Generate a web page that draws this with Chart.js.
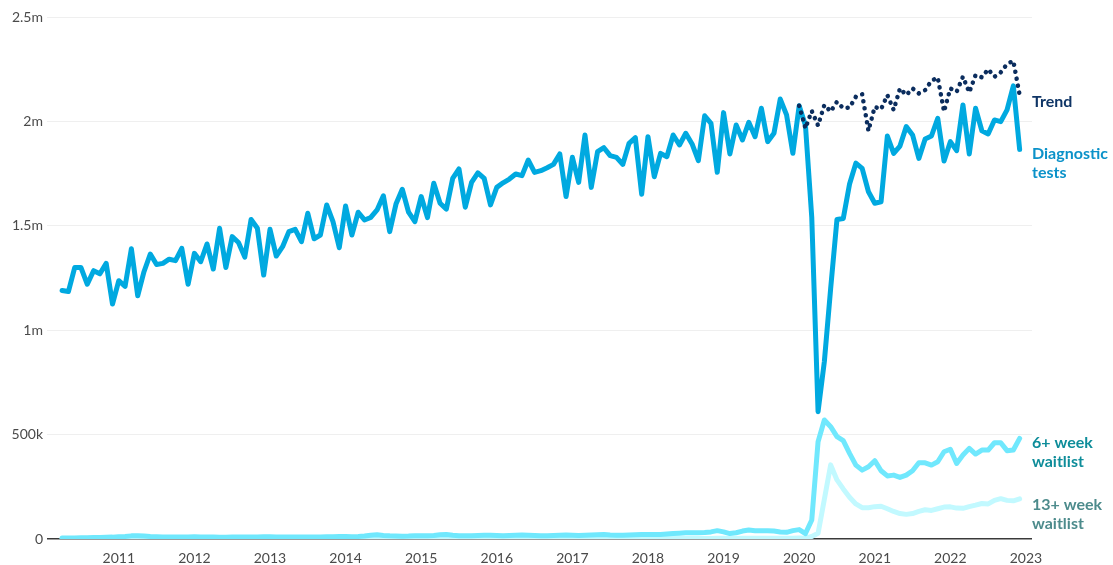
<!DOCTYPE html>
<html>
<head>
<meta charset="utf-8">
<script src="https://cdn.jsdelivr.net/npm/chart.js@4.4.1/dist/chart.umd.min.js"></script>
<style>
  html, body { margin: 0; padding: 0; background: #fff; }
  #wrap { width: 1113px; height: 565px; position: relative; }
</style>
</head>
<body>
<div id="wrap"><canvas id="chart"></canvas></div>
<script>
// ── Data (thousands, monthly from Apr 2010 to Dec 2022) ──
const START_YEAR = 2010;
const START_MONTH = 4;

const diagnosticTests = [
  // 2010 (Apr-Dec)
  1190, 1185, 1300, 1300, 1220, 1285, 1270, 1320, 1125,
  // 2011
  1237, 1210, 1390, 1165, 1280, 1365, 1315, 1320, 1340, 1333, 1392, 1220,
  // 2012
  1368, 1328, 1413, 1293, 1488, 1300, 1448, 1420, 1350, 1530, 1488, 1264,
  // 2013
  1483, 1355, 1400, 1472, 1483, 1424, 1560, 1438, 1456, 1600, 1520, 1395,
  // 2014
  1595, 1456, 1565, 1528, 1540, 1576, 1644, 1472, 1604, 1675, 1565, 1520,
  // 2015
  1640, 1539, 1704, 1608, 1580, 1727, 1772, 1589, 1708, 1754, 1727, 1600,
  // 2016
  1684, 1706, 1724, 1748, 1740, 1815, 1756, 1764, 1778, 1794, 1844, 1640,
  // 2017
  1828, 1708, 1935, 1684, 1855, 1874, 1836, 1828, 1794, 1895, 1922, 1651,
  // 2018
  1927, 1735, 1847, 1831, 1935, 1887, 1943, 1892, 1812, 2027, 1991, 1756,
  // 2019
  2042, 1844, 1983, 1911, 1996, 1927, 2063, 1903, 1943, 2107, 2031, 1847,
  // 2020
  2075, 1980, 1540, 610, 850, 1200, 1530, 1535, 1700, 1800, 1775, 1663,
  // 2021
  1608, 1615, 1930, 1847, 1882, 1975, 1935, 1823, 1916, 1930, 2015, 1810,
  // 2022
  1903, 1860, 2079, 1844, 2063, 1955, 1940, 2007, 1999, 2055, 2170, 1866
];

// trend only exists from Jan 2020
const TREND_START = '2020-01';
const trend = [
  2075, 1967, 2050, 1980, 2079, 2047, 2094, 2063, 2066, 2118, 2130, 1955,
  2070, 2058, 2126, 2055, 2158, 2126, 2158, 2134, 2150, 2195, 2210, 2047,
  2158, 2142, 2214, 2139, 2222, 2211, 2250, 2214, 2235, 2275, 2290, 2126
];

const waitlist6 = [
  // 2010
  5, 5, 5, 6, 6, 7, 7, 8, 9,
  // 2011
  11, 12, 15, 16, 14, 12, 11, 10, 10, 10, 9, 10,
  // 2012
  11, 10, 9, 9, 8, 8, 9, 9, 9, 10, 10, 11,
  // 2013
  11, 10, 9, 9, 9, 9, 10, 10, 10, 11, 11, 12,
  // 2014
  12, 11, 12, 14, 18, 20, 17, 15, 14, 13, 14, 16,
  // 2015
  16, 15, 17, 20, 22, 18, 16, 16, 16, 17, 18, 18,
  // 2016
  17, 16, 17, 18, 19, 18, 17, 16, 16, 17, 18, 19,
  // 2017
  18, 17, 18, 19, 20, 21, 19, 18, 18, 19, 20, 21,
  // 2018
  22, 21, 22, 24, 26, 28, 30, 30, 30, 31, 34, 40,
  // 2019
  34, 26, 30, 38, 43, 40, 40, 40, 38, 34, 32, 40,
  // 2020
  45, 26, 91, 466, 570, 538, 490, 471, 410, 354, 330, 346,
  // 2021
  375, 327, 302, 306, 295, 306, 327, 365, 365, 354, 370, 418,
  // 2022
  430, 362, 402, 434, 407, 426, 426, 461, 461, 423, 426, 482
];

const waitlist13 = [
  // 2010
  1, 1, 1, 1, 1, 1, 1, 1, 1,
  // 2011
  1, 1, 2, 2, 2, 1, 1, 1, 1, 1, 1, 1,
  // 2012
  1, 1, 1, 1, 1, 1, 1, 1, 1, 1, 1, 1,
  // 2013
  1, 1, 1, 1, 1, 1, 1, 1, 1, 1, 1, 1,
  // 2014
  1, 1, 1, 1, 2, 2, 2, 1, 1, 1, 1, 1,
  // 2015
  1, 1, 1, 2, 2, 2, 1, 1, 1, 1, 1, 1,
  // 2016
  1, 1, 1, 1, 1, 1, 1, 1, 1, 1, 1, 1,
  // 2017
  1, 1, 1, 1, 1, 1, 1, 1, 1, 1, 1, 1,
  // 2018
  1, 1, 1, 2, 2, 2, 2, 2, 2, 2, 2, 3,
  // 2019
  3, 2, 2, 3, 4, 3, 3, 3, 3, 3, 3, 4,
  // 2020
  5, 4, 12, 27, 190, 355, 283, 240, 200, 168, 150, 150,
  // 2021
  155, 157, 145, 132, 122, 118, 122, 132, 140, 137, 145, 153,
  // 2022
  154, 148, 147, 155, 162, 170, 168, 185, 193, 185, 183, 192
];

const yearTicks = [2011, 2012, 2013, 2014, 2015, 2016, 2017, 2018, 2019, 2020, 2021, 2022, 2023];
const yTicks = [0, 500, 1000, 1500, 2000, 2500];
const yTickLabels = ['0', '500k', '1m', '1.5m', '2m', '2.5m'];

const seriesLabels = [
  { text: ['Trend'], color: '#0f3566', dy: 7 },
  { text: ['Diagnostic', 'tests'], color: '#0b92c9', dy: 4 },
  { text: ['6+ week', 'waitlist'], color: '#0e8d9a', dy: 4 },
  { text: ['13+ week', 'waitlist'], color: '#4d8b8c', dy: 6 }
];

// month index -> decimal year on x axis
function monthX(i) {
  return START_YEAR + (START_MONTH - 1 + i) / 12;
}
function toPoints(arr, offset) {
  return arr.map((v, i) => ({ x: monthX(i + offset), y: v }));
}
const trendOffset = (parseInt(TREND_START.slice(0, 4)) - START_YEAR) * 12 +
  parseInt(TREND_START.slice(5)) - START_MONTH;

// ── End labels ──
const endLabels = {
  id: 'endLabels',
  afterDatasetsDraw(chart) {
    const { ctx, scales: { y }, chartArea } = chart;
    ctx.save();
    ctx.font = 'bold 16px Lato';
    ctx.textBaseline = 'middle';
    ctx.textAlign = 'left';
    chart.data.datasets.forEach((ds, i) => {
      const last = ds.data[ds.data.length - 1].y;
      const lab = seriesLabels[i];
      const py = y.getPixelForValue(last) + lab.dy;
      ctx.fillStyle = lab.color;
      lab.text.forEach((t, j) => ctx.fillText(t, chartArea.right, py + j * 19));
    });
    ctx.restore();
  }
};

const lineBase = {
  pointRadius: 0, pointHoverRadius: 0, tension: 0,
  borderJoinStyle: 'round', borderCapStyle: 'round', fill: false
};

new Chart(document.getElementById('chart'), {
  type: 'line',
  data: {
    datasets: [
      Object.assign({}, lineBase, {
        label: 'Trend', data: toPoints(trend, trendOffset),
        borderColor: '#0b2d5e', borderWidth: 4.5, borderDash: [0.1, 7]
      }),
      Object.assign({}, lineBase, {
        label: 'Diagnostic tests', data: toPoints(diagnosticTests, 0),
        borderColor: '#00a9e0', borderWidth: 5
      }),
      Object.assign({}, lineBase, {
        label: '6+ week waitlist', data: toPoints(waitlist6, 0),
        borderColor: '#70e8fd', borderWidth: 5
      }),
      Object.assign({}, lineBase, {
        label: '13+ week waitlist', data: toPoints(waitlist13, 0),
        borderColor: '#c2f9ff', borderWidth: 5
      })
    ]
  },
  options: {
    responsive: true, maintainAspectRatio: false, animation: false,
    layout: { padding: { top: 17, right: 81, left: 0, bottom: 0 } },
    plugins: { legend: { display: false }, tooltip: { enabled: false } },
    scales: {
      x: {
        type: 'linear', min: 2010.09, max: 2023.08,
        grid: { display: false }, border: { display: false },
        afterBuildTicks: s => { s.ticks = yearTicks.map(v => ({ value: v })); },
        afterFit: s => { s.height = 26; },
        ticks: {
          padding: 3, maxRotation: 0, autoSkip: false,
          font: { family: 'Lato', size: 14 }, color: '#4a4a4a',
          callback: v => String(v)
        }
      },
      y: {
        min: 0, max: 2500,
        afterBuildTicks: s => { s.ticks = yTicks.map(v => ({ value: v })); },
        afterFit: s => { s.width = 50; },
        border: { display: false },
        grid: {
          tickLength: 3,
          color: c => c.tick && c.tick.value === 0 ? '#3a3a3a' : '#efefef',
          lineWidth: c => c.tick && c.tick.value === 0 ? 1.5 : 1
        },
        ticks: {
          padding: 4,
          font: { family: 'Lato', size: 14 }, color: '#4a4a4a',
          callback: v => yTickLabels[yTicks.indexOf(v)]
        }
      }
    }
  },
  plugins: [endLabels]
});
</script>
</body>
</html>
